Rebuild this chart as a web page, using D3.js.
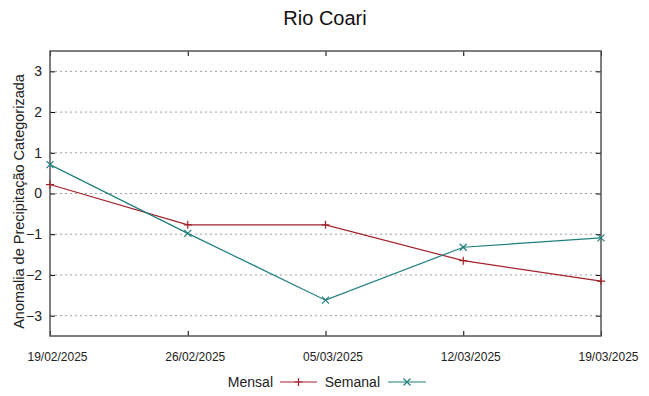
<!DOCTYPE html>
<html><head><meta charset="utf-8">
<script src="https://cdn.jsdelivr.net/npm/d3@7"></script>
<style>
body{margin:0;background:#fff;}
svg{display:block;font-family:"Liberation Sans",Arial,sans-serif;}
</style></head>
<body><svg id="c" width="649" height="396"></svg>
<script>
const dates = ["19/02/2025","26/02/2025","05/03/2025","12/03/2025","19/03/2025"];
const mensal = [0.22, -0.77, -0.77, -1.65, -2.15];
const semanal = [0.71, -0.98, -2.62, -1.32, -1.09];
const yTicks = [-3,-2,-1,0,1,2,3];
const title = "Rio Coari";
const yLabel = "Anomalia de Precipitação Categorizada";

const colM = "#a3222b", colS = "#1f7f7f";
const svg = d3.select("#c");
const L=50, R=601, T=51, B=336;
const parse = d3.timeParse("%d/%m/%Y");
const x = d3.scaleTime().domain(d3.extent(dates, parse)).range([L,R]);
const y = d3.scaleLinear().domain([-3.5,3.5]).range([B,T]);

// grid
svg.append("g").selectAll("line").data(yTicks).join("line")
  .attr("x1",L).attr("x2",R).attr("y1",d=>y(d)).attr("y2",d=>y(d))
  .attr("stroke","#a0a0a0").attr("stroke-width",1).attr("stroke-dasharray","2,3");

// axes
const gl = svg.append("g").attr("transform",`translate(${L},0)`)
  .call(d3.axisLeft(y).tickValues(yTicks).tickSize(-5).tickPadding(8).tickFormat(d3.format("d")));
const gr = svg.append("g").attr("transform",`translate(${R},0)`)
  .call(d3.axisRight(y).tickValues(yTicks).tickSize(-5).tickFormat(""));
const gb = svg.append("g").attr("transform",`translate(0,${B})`)
  .call(d3.axisBottom(x).tickValues(dates.map(parse)).tickSize(-5).tickPadding(18).tickFormat(d3.timeFormat("%d/%m/%Y")));
const gt = svg.append("g").attr("transform",`translate(0,${T})`)
  .call(d3.axisTop(x).tickValues(dates.map(parse)).tickSize(-5).tickFormat(""));
[gl,gr,gb,gt].forEach(g=>{
  g.select(".domain").remove();
  g.selectAll(".tick line").attr("stroke","#000").attr("stroke-width",1);
});
gl.selectAll("text").attr("font-size",14).attr("fill","#222").attr("font-family","Liberation Sans, Arial");
gb.selectAll("text").attr("font-size",12).attr("fill","#222").attr("font-family","Liberation Sans, Arial")
  .attr("dy","0.6em").attr("dx",7);

svg.append("rect").attr("x",L).attr("y",T).attr("width",R-L).attr("height",B-T)
  .attr("fill","none").attr("stroke","#555").attr("stroke-width",1.5);

// lines
const line = (vals)=>d3.line().x((d,i)=>x(parse(dates[i]))).y(d=>y(d))(vals);
svg.append("path").attr("d",line(mensal)).attr("fill","none").attr("stroke",colM).attr("stroke-width",1.2);
svg.append("path").attr("d",line(semanal)).attr("fill","none").attr("stroke",colS).attr("stroke-width",1.2);

const plus = (g,cx,cy,c)=>{ g.append("path").attr("d",`M${cx-4},${cy}H${cx+4}M${cx},${cy-4}V${cy+4}`).attr("stroke",c).attr("stroke-width",1.2); };
const cross = (g,cx,cy,c)=>{ g.append("path").attr("d",`M${cx-3.5},${cy-3.5}L${cx+3.5},${cy+3.5}M${cx-3.5},${cy+3.5}L${cx+3.5},${cy-3.5}`).attr("stroke",c).attr("stroke-width",1.2); };
const gm = svg.append("g");
mensal.forEach((v,i)=>plus(gm,x(parse(dates[i])),y(v),colM));
semanal.forEach((v,i)=>cross(gm,x(parse(dates[i])),y(v),colS));

// title
svg.append("text").attr("x",325).attr("y",25).attr("text-anchor","middle")
  .attr("font-size",20).attr("fill","#111").text(title);
// y label
svg.append("text").attr("transform",`translate(24,${(T+B)/2+8}) rotate(-90)`).attr("text-anchor","middle")
  .attr("font-size",14.5).attr("fill","#222").text(yLabel);

// legend
const ly = 382;
svg.append("text").attr("x",273).attr("y",ly+5).attr("text-anchor","end").attr("font-size",14).attr("fill","#222").text("Mensal");
svg.append("line").attr("x1",280).attr("x2",317).attr("y1",ly).attr("y2",ly).attr("stroke",colM).attr("stroke-width",1.2);
plus(svg,298.5,ly,colM);
svg.append("text").attr("x",380).attr("y",ly+5).attr("text-anchor","end").attr("font-size",14).attr("fill","#222").text("Semanal");
svg.append("line").attr("x1",388).attr("x2",426).attr("y1",ly).attr("y2",ly).attr("stroke",colS).attr("stroke-width",1.2);
cross(svg,407,ly,colS);
</script></body></html>
